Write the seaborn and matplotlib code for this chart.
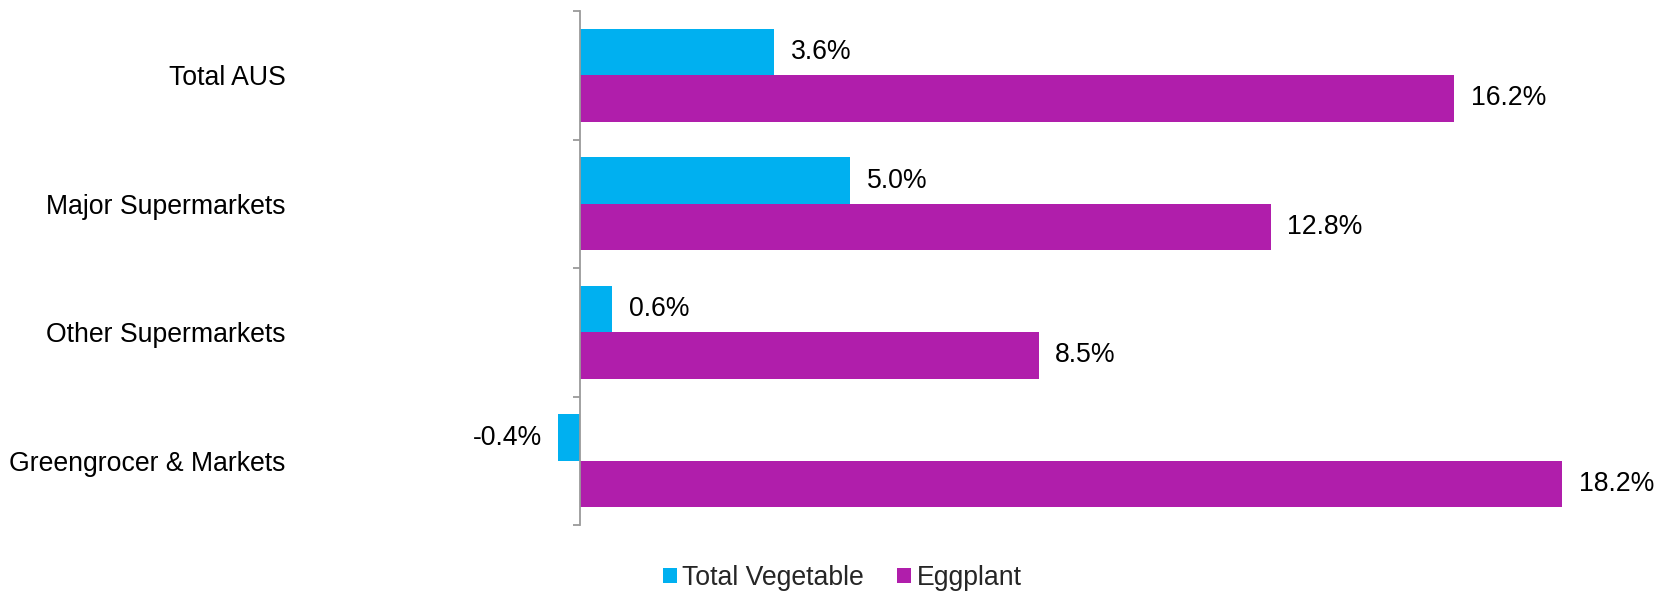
import matplotlib
matplotlib.use("Agg")
import matplotlib.pyplot as plt
import seaborn as sns
import pandas as pd
from matplotlib.patches import Patch

# Channel growth figures (%)
channels = ["Total AUS", "Major Supermarkets", "Other Supermarkets", "Greengrocer & Markets"]
series_names = ["Total Vegetable", "Eggplant"]
total_vegetable = [3.6, 5.0, 0.6, -0.4]
eggplant = [16.2, 12.8, 8.5, 18.2]
colors = ["#00B0F0", "#B01EAB"]

df = pd.DataFrame({
    "channel": channels * 2,
    "series": [series_names[0]] * len(channels) + [series_names[1]] * len(channels),
    "value": total_vegetable + eggplant,
})

sns.set_theme(style="white")
plt.rcParams["font.family"] = ["Liberation Sans", "DejaVu Sans"]

fig = plt.figure(figsize=(16.55, 5.91), dpi=100)
ax = fig.add_axes([520 / 1655, 66 / 591, 1080 / 1655, 514 / 591])

sns.barplot(data=df, y="channel", x="value", hue="series", order=channels,
            hue_order=series_names, palette=colors, orient="h", width=0.72,
            saturation=1, legend=False, linewidth=0, edgecolor="none", ax=ax)

px_per_unit = 53.96
ax.set_xlim(-60 / px_per_unit, 1020 / px_per_unit)
ax.set_ylim(len(channels) - 0.5, -0.5)

# value labels beside each bar
fs = 19.2
for cont in ax.containers:
    for bar in cont:
        w = bar.get_width()
        yc = bar.get_y() + bar.get_height() / 2
        if w >= 0:
            ax.annotate(f"{w:.1f}%", (w, yc), xytext=(12, 0), textcoords="offset points",
                        ha="left", va="center", fontsize=fs, color="black", annotation_clip=False)
        else:
            ax.annotate(f"{w:.1f}%", (w, yc), xytext=(-12, 0), textcoords="offset points",
                        ha="right", va="center", fontsize=fs, color="black", annotation_clip=False)

for s in ["top", "right", "bottom"]:
    ax.spines[s].set_visible(False)
ax.spines["left"].set_position(("data", 0))
ax.spines["left"].set_color("#9A9A9A")
ax.spines["left"].set_linewidth(1.3)

ax.set_xticks([])
ax.set_xlabel("")
ax.set_ylabel("")
ax.set_yticks(range(len(channels)))
ax.set_yticklabels(channels, fontsize=fs, color="black")
ax.set_yticks([i - 0.5 for i in range(len(channels) + 1)], minor=True)
ax.tick_params(axis="y", which="major", length=0, pad=212)
ax.tick_params(axis="y", which="minor", length=5, width=1.3, color="#9A9A9A", direction="out", left=True)

handles = [Patch(facecolor=c, edgecolor="none") for c in colors]
fig.legend(handles, series_names, loc="center", bbox_to_anchor=(0.509, 0.022), ncol=2,
           frameon=False, fontsize=fs, handlelength=0.52, handleheight=0.52,
           handletextpad=0.2, columnspacing=1.25)

fig.savefig("out.png", dpi=100, facecolor="white")
